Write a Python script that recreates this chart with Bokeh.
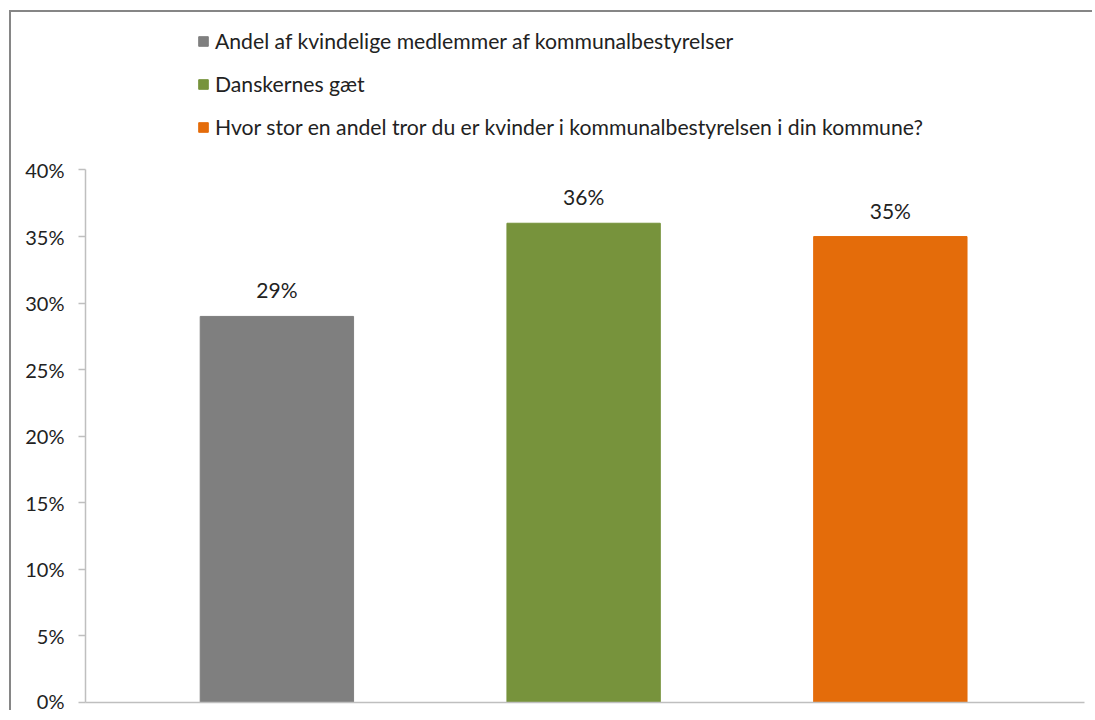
from bokeh.plotting import figure
from bokeh.models import (ColumnDataSource, Legend, LegendItem, LabelSet,
                          NumeralTickFormatter, FixedTicker, Range1d)
from bokeh.core.properties import value
from bokeh.embed import file_html
from bokeh.resources import INLINE

series = ["Andel af kvindelige medlemmer af kommunalbestyrelser",
          "Danskernes gæt",
          "Hvor stor en andel tror du er kvinder i kommunalbestyrelsen i din kommune?"]
values = [0.29, 0.36, 0.35]
bar_labels = ["29%", "36%", "35%"]
colors = ["#7f7f7f", "#77933c", "#e46c0a"]
y_ticks = [0.0, 0.05, 0.10, 0.15, 0.20, 0.25, 0.30, 0.35, 0.40]

FONT = "Lato"
TEXT = "#222222"

src = ColumnDataSource(dict(x=[0, 1, 2], top=values, color=colors, lab=bar_labels))

p = figure(width=1083, height=700, output_backend="svg", toolbar_location=None,
           x_range=Range1d(-0.624, 2.633), y_range=Range1d(0, 0.5183),
           min_border_left=74, min_border_right=10, min_border_top=0,
           min_border_bottom=10)
# outer chart-area border (left and top edges visible in the reference)
p.styles = {"margin-left": "11px", "margin-top": "12px",
            "box-shadow": "-2px -2px 0px 0px #868686"}
p.outline_line_color = None
p.grid.grid_line_color = None
p.background_fill_color = "white"
p.border_fill_color = "white"

r = p.vbar(x="x", top="top", width=0.5, color="color", source=src)

p.add_layout(LabelSet(x="x", y="top", text="lab", source=src, y_offset=14,
                      text_align="center", text_baseline="bottom",
                      text_font=value(FONT), text_font_size="21px", text_color=TEXT))

yax = p.yaxis[0]
yax.ticker = FixedTicker(ticks=y_ticks)
yax.bounds = (0, 0.40)
yax.formatter = NumeralTickFormatter(format="0%")
yax.axis_line_color = "#bfbfbf"
yax.axis_line_width = 1.5
yax.major_tick_line_color = "#bfbfbf"
yax.major_tick_line_width = 1.5
yax.major_tick_out = 7
yax.major_tick_in = 0
yax.minor_tick_line_color = None
yax.major_label_standoff = 14
yax.major_label_text_font = FONT
yax.major_label_text_font_size = "20px"
yax.major_label_text_color = TEXT

xax = p.xaxis[0]
xax.ticker = FixedTicker(ticks=[])
xax.axis_line_color = "#bfbfbf"
xax.axis_line_width = 1.5
xax.major_tick_line_color = None
xax.minor_tick_line_color = None
xax.major_label_text_color = None

legend = Legend(items=[LegendItem(label=series[i], renderers=[r], index=i) for i in range(3)],
                location=(112, 562), orientation="vertical",
                glyph_width=12, glyph_height=12, label_height=24, spacing=17,
                label_standoff=6, padding=0, margin=0,
                border_line_color=None, background_fill_alpha=0,
                label_text_font=FONT, label_text_font_size="21.2px",
                label_text_color=TEXT)
p.add_layout(legend, "center")

open("out.html", "w").write(file_html(p, INLINE))
